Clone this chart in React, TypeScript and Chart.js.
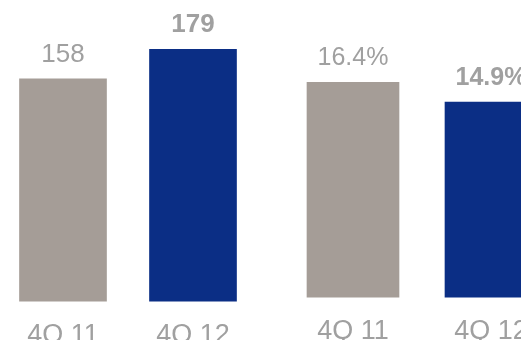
import React, { useEffect, useRef } from "react";
import { Chart, registerables } from "chart.js";

Chart.register(...registerables);

const categories = ["4Q 11", "4Q 12"];
const leftValues = [158, 179];
const rightValues = [16.4, 14.9];
const leftLabels = ["158", "179"];
const rightLabels = ["16.4%", "14.9%"];
const barColors = ["#A59D97", "#0B2E85"];
const textColor = "#A0A0A0";
const FONT = "'Liberation Sans', Arial, sans-serif";

const valueLabelPlugin = (labels: string[], size: number) => ({
  id: "valueLabels",
  afterDatasetsDraw(chart: any) {
    const ctx = chart.ctx;
    const meta = chart.getDatasetMeta(0);
    ctx.save();
    ctx.fillStyle = textColor;
    ctx.textAlign = "center";
    ctx.textBaseline = "alphabetic";
    meta.data.forEach((bar: any, i: number) => {
      ctx.font = `${i === 1 ? "bold " : ""}${size}px ${FONT}`;
      ctx.fillText(labels[i], bar.x, bar.y - 17);
    });
    ctx.restore();
  },
});

function makeConfig(values: number[], labels: string[], max: number, thickness: number, size: number): any {
  return {
    type: "bar",
    data: {
      labels: categories,
      datasets: [
        {
          data: values,
          backgroundColor: barColors,
          borderWidth: 0,
          barThickness: thickness,
        },
      ],
    },
    options: {
      animation: false,
      responsive: false,
      maintainAspectRatio: false,
      layout: { padding: 0 },
      plugins: { legend: { display: false }, tooltip: { enabled: false } },
      scales: {
        x: {
          grid: { display: false, drawTicks: false },
          border: { display: false },
          ticks: { color: textColor, font: { family: FONT, size: 27 }, padding: 18 },
        },
        y: { display: false, min: 0, max },
      },
    },
    plugins: [valueLabelPlugin(labels, size)],
  };
}

export default function App() {
  const leftRef = useRef<HTMLCanvasElement>(null);
  const rightRef = useRef<HTMLCanvasElement>(null);

  useEffect(() => {
    const c1 = new Chart(leftRef.current!, makeConfig(leftValues, leftLabels, 214, 87, 26));
    const c2 = new Chart(rightRef.current!, makeConfig(rightValues, rightLabels, 22.67, 92, 25));
    return () => {
      c1.destroy();
      c2.destroy();
    };
  }, []);

  return (
    <div
      style={{
        position: "fixed",
        left: 0,
        top: 0,
        width: 521,
        height: 340,
        overflow: "hidden",
        background: "#fff",
      }}
    >
      <canvas
        ref={leftRef}
        width={260}
        height={370}
        style={{ position: "absolute", left: -2, top: 0, width: 260, height: 370 }}
      />
      <canvas
        ref={rightRef}
        width={276}
        height={366}
        style={{ position: "absolute", left: 284, top: 0, width: 276, height: 366 }}
      />
    </div>
  );
}
